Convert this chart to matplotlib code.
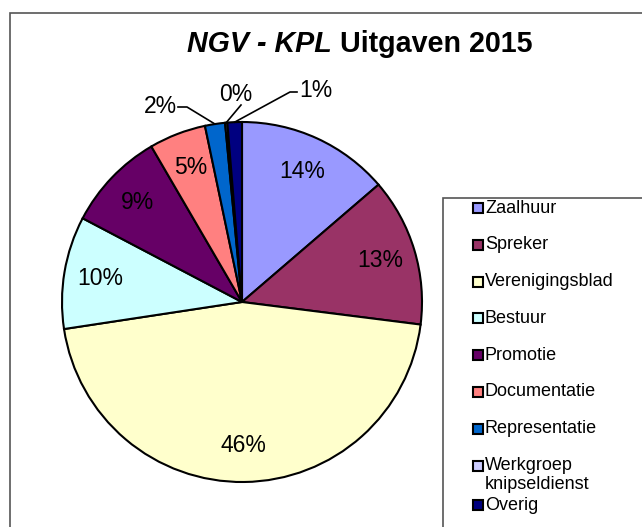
import numpy as np
import matplotlib.pyplot as plt
from matplotlib.patches import Rectangle

plt.rcParams["font.family"] = ["Liberation Sans", "DejaVu Sans"]

# ----------------------------------------------------------------------
# Data (percent of total expenses)
# ----------------------------------------------------------------------
categories = ["Zaalhuur", "Spreker", "Verenigingsblad", "Bestuur", "Promotie",
              "Documentatie", "Representatie", "Werkgroep\nknipseldienst", "Overig"]
shares = [13.7, 13.3, 45.6, 10.1, 8.9, 5.1, 1.8, 0.2, 1.3]
colors = ["#9999FF", "#993366", "#FFFFCC", "#CCFFFF", "#660066",
          "#FF8080", "#0066CC", "#CCCCFF", "#000080"]

W, H = 642, 527
fig = plt.figure(figsize=(W / 100, H / 100), dpi=100)

def px(x, y):
    """pixel (from top-left) -> figure fraction"""
    return x / W, 1 - y / H

# chart-area border (runs off right/bottom like the original crop)
fig.patches.append(Rectangle(px(10, 560), 700 / W, 547 / H, transform=fig.transFigure,
                             fill=False, edgecolor="#555555", lw=1.2))

# title: italic part + regular part
t1 = fig.text(*px(187, 44), "NGV - KPL", fontsize=20.6, fontweight="bold",
              fontstyle="italic", va="center", ha="left")
fig.canvas.draw()
bb = t1.get_window_extent()
fig.text(bb.x1 / W, 1 - 44 / H, " Uitgaven 2015", fontsize=20.6, fontweight="bold",
         va="center", ha="left")

# ----------------------------------------------------------------------
# Pie
# ----------------------------------------------------------------------
cx, cy, r = 242, 302, 180
ax = fig.add_axes([(cx - r) / W, (H - cy - r) / H, 2 * r / W, 2 * r / H])
wedges, texts, autotexts = ax.pie(
    shares, colors=colors, startangle=90, counterclock=False,
    autopct="%1.0f%%", pctdistance=0.8,
    wedgeprops=dict(edgecolor="black", linewidth=1.5),
    textprops=dict(fontsize=16.5, color="black"))
ax.set_xlim(-1, 1)
ax.set_ylim(-1, 1)
ax.set_aspect("equal")
ax.axis("off")

def d(x, y):
    return (x - cx) / r, (cy - y) / r

# small slices: labels outside with leader lines
outside = {
    6: dict(text=(160, 106), path=[(187, 107), (178, 107)]),
    7: dict(text=(236, 94), path=[(241, 105)]),
    8: dict(text=(316, 90), path=[(290, 92), (297, 92)]),
}
for i, spec in outside.items():
    w = wedges[i]
    mid = np.deg2rad((w.theta1 + w.theta2) / 2)
    pts = [(np.cos(mid), np.sin(mid))] + [d(*p) for p in spec["path"]]
    xs, ys = zip(*pts)
    ax.plot(xs, ys, color="black", lw=1.2, clip_on=False)
    autotexts[i].set_position(d(*spec["text"]))
    autotexts[i].set_clip_on(False)

# ----------------------------------------------------------------------
# Legend (manual, matching original spacing)
# ----------------------------------------------------------------------
fig.patches.append(Rectangle(px(443, 560), 300 / W, 362 / H, transform=fig.transFigure,
                             fill=False, edgecolor="#555555", lw=1.2))
y0, step = 208, 36.8
for i, (name, col) in enumerate(zip(categories, colors)):
    y = y0 + i * step
    if i == len(categories) - 1:
        y += 3   # last entry squeezed below the wrapped label
    fig.patches.append(Rectangle(px(473, y + 5), 10 / W, 10 / H, transform=fig.transFigure,
                                 facecolor=col, edgecolor="black", lw=1.5))
    if "\n" in name:
        first, second = name.split("\n")
        fig.text(*px(485, y), first, fontsize=13, va="center", ha="left")
        fig.text(*px(485, y + 19), second, fontsize=13, va="center", ha="left")
    else:
        fig.text(*px(485, y), name, fontsize=13, va="center", ha="left")

fig.savefig("out.png", dpi=100)
